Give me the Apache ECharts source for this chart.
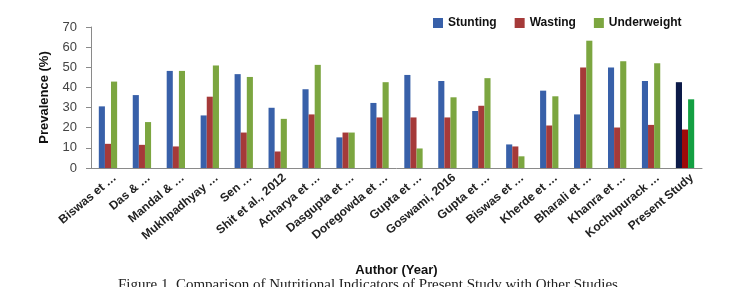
<!DOCTYPE html>
<html>
<head>
<meta charset="utf-8">
<script src="https://cdn.jsdelivr.net/npm/echarts@6/dist/echarts.min.js"></script>
<style>
  html, body { margin: 0; padding: 0; background: #fff; }
  #chart { width: 738px; height: 287px; }
</style>
</head>
<body>
<div id="chart"></div>
<script>
// authors (labels as truncated in the source figure)
const authors = [
  'Biswas et …', 'Das & …', 'Mandal & …', 'Mukhpadhyay …', 'Sen …',
  'Shit et al., 2012', 'Acharya et …', 'Dasgupta et …', 'Doregowda et …',
  'Gupta et …', 'Goswami, 2016', 'Gupta et …', 'Biswas et …', 'Kherde et …',
  'Bharali et …', 'Khanra et …', 'Kochupurack …', 'Present Study'
];
const stunting    = [30.6, 36.2, 48.2, 26.1, 46.6, 29.9, 39.1, 15.2, 32.3, 46.2, 43.2, 28.3, 11.7, 38.4, 26.6, 49.9, 43.2, 42.6];
const wasting     = [12.0, 11.5, 10.7, 35.4, 17.6,  8.2, 26.6, 17.6, 25.1, 25.1, 25.1, 30.9, 10.7, 21.1, 49.9, 20.1, 21.4, 19.1];
const underweight = [42.9, 22.8, 48.2, 50.9, 45.2, 24.4, 51.2, 17.6, 42.6,  9.7, 35.1, 44.6,  5.8, 35.6, 63.2, 53.0, 52.0, 34.1];
const yTicks = [0, 10, 20, 30, 40, 50, 60, 70];

// the last group (present study) is drawn in its own darker colours
const presentColors = ['#0c1a48', '#9e0a0a', '#13a042'];
const withPresent = (arr, i) => arr.map((v, k) =>
  k === arr.length - 1 ? { value: v, itemStyle: { color: presentColors[i] } } : v);

const chart = echarts.init(document.getElementById('chart'));

chart.setOption({
  animation: false,
  textStyle: { fontFamily: 'Liberation Sans, Arial, sans-serif' },
  legend: {
    top: 12,
    left: 428,
    itemWidth: 10,
    itemHeight: 10,
    itemGap: 18,
    icon: 'rect',
    textStyle: { fontWeight: 'bold', fontSize: 12, color: '#111' },
    data: ['Stunting', 'Wasting', 'Underweight']
  },
  grid: { left: 91, right: 36, top: 27, bottom: 119 },
  xAxis: {
    type: 'category',
    data: authors,
    name: 'Author (Year)',
    nameLocation: 'middle',
    nameGap: 96,
    nameTextStyle: { fontWeight: 'bold', fontSize: 13, color: '#111' },
    axisLine: { lineStyle: { color: '#8a8a8a' } },
    axisTick: { show: false },
    axisLabel: {
      interval: 0,
      rotate: 40,
      margin: 14,
      padding: [0, -9, 0, 0],
      fontWeight: 'bold',
      fontSize: 12,
      color: '#222'
    }
  },
  yAxis: {
    type: 'value',
    min: yTicks[0],
    max: yTicks[yTicks.length - 1],
    interval: 10,
    name: 'Prevalence (%)',
    nameLocation: 'middle',
    nameGap: 40,
    nameTextStyle: { fontWeight: 'bold', fontSize: 13, color: '#111' },
    axisLine: { show: true, lineStyle: { color: '#8a8a8a' } },
    axisTick: { show: true, length: 5, lineStyle: { color: '#8a8a8a' } },
    axisLabel: { fontSize: 13, color: '#444', margin: 14 },
    splitLine: { show: false }
  },
  series: [
    { name: 'Stunting', type: 'bar', data: withPresent(stunting, 0),
      itemStyle: { color: '#3860a9' }, barGap: '0%', barCategoryGap: '46%' },
    { name: 'Wasting', type: 'bar', data: withPresent(wasting, 1),
      itemStyle: { color: '#a53a39' } },
    { name: 'Underweight', type: 'bar', data: withPresent(underweight, 2),
      itemStyle: { color: '#7ca640' } }
  ],
  graphic: [{
    type: 'text',
    left: 118,
    top: 278,
    style: {
      text: 'Figure 1. Comparison of Nutritional Indicators of Present Study with Other Studies',
      font: '15px "Liberation Serif", serif',
      fill: '#222'
    }
  }]
});
</script>
</body>
</html>
